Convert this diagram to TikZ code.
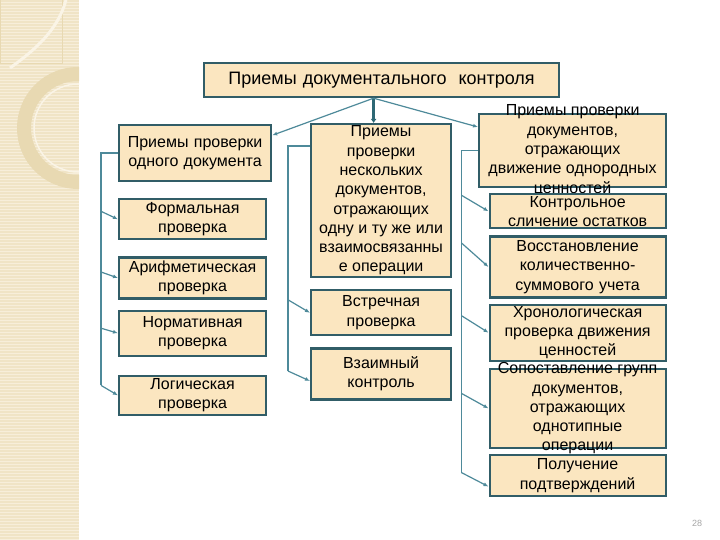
\documentclass[tikz,border=0pt]{standalone}
\usepackage{fontspec}
\setmainfont{Liberation Sans}
\usetikzlibrary{arrows.meta,positioning,calc}
\definecolor{paper}{HTML}{F0E4C6}
\definecolor{paperline}{HTML}{F7EEDA}
\definecolor{ring}{HTML}{E8D9B2}
\definecolor{glint}{HTML}{FAF4E6}
\definecolor{boxfill}{HTML}{FBE6C0}
\definecolor{boxedge}{HTML}{315D67}
\definecolor{wirec}{HTML}{4E8A9A}
\definecolor{trunkc}{HTML}{2E6875}
\definecolor{pagenum}{HTML}{A6A6A6}
\tikzset{
  >={Latex[length=5pt,width=4pt]},
  every node/.style={font=\fontsize{16}{19.3}\selectfont},
  box/.style={draw=boxedge,fill=boxfill,line width=2.2pt,inner sep=0pt,align=center},
  wire/.style={draw=wirec,line width=1.2pt},
  warrow/.style={wire,->},
  trunk/.style={draw=trunkc,line width=3pt,-{Latex[length=4pt,width=6pt]}}
}

\begin{document}
\begin{tikzpicture}[x=1pt,y=-1pt,node distance=5pt]
  \useasboundingbox (0,0) rectangle (720,540);
  \fill[white] (0,0) rectangle (720,540);
  % left strip
  \begin{scope}
    \clip (0,0) rectangle (79,540);
    \fill[paper] (0,0) rectangle (79,540);
    \foreach \y in {2,5,...,540} \draw[paperline,line width=0.8pt] (0,\y) -- (79,\y);
    \draw[ring,line width=1pt] (0,0) rectangle (62,64);
    \draw[glint,line width=3pt] (66,0) .. controls (58,30) and (35,50) .. (10,68);
    \draw[ring,line width=14pt] (78,128) circle[radius=54];
    \draw[glint,line width=1.5pt] (78,128) circle[radius=44];
  \end{scope}

  \node[box,text width=355pt,minimum height=34pt,anchor=north west,font=\fontsize{18}{21}\selectfont] (top) at (203,62) {Приемы документального\ \ контроля};

  \node[box,text width=152pt,minimum height=56pt,anchor=north west] (one) at (118,124) {Приемы проверки\\одного документа};
  \node[box,text width=147pt,minimum height=40pt,below=16pt of one,xshift=-2.5pt] (formal) {Формальная\\проверка};
  \node[box,text width=147pt,minimum height=41pt,below=16pt of formal] (arith) {Арифметическая\\проверка};
  \node[box,text width=147pt,minimum height=45pt,below=10pt of arith] (norm) {Нормативная\\проверка};
  \node[box,text width=147pt,minimum height=39pt,below=18pt of norm] (logic) {Логическая\\проверка};

  \node[box,anchor=north west] (several) at (310,123) {\parbox[c][153pt][c]{140pt}{\centering Приемы\\проверки\\нескольких\\документов,\\отражающих\\одну и ту же или\\взаимосвязанны\\е операции}};
  \node[box,text width=140pt,minimum height=45pt,below=11pt of several] (meet) {Встречная\\проверка};
  \node[box,text width=140pt,minimum height=51pt,below=11pt of meet] (mutual) {Взаимный\\контроль};

  \node[box,anchor=north west] (group) at (478,113) {\parbox[c][73pt][c]{187pt}{\centering Приемы проверки\\документов,\\отражающих\\движение однородных\\ценностей}};
  \node[box,below=5pt of group,xshift=5pt] (recon) {\parbox[c][34pt][c]{176pt}{\centering Контрольное\\сличение остатков}};
  \node[box,text width=176pt,minimum height=61pt,below=6pt of recon] (restore) {Восстановление\\количественно-\\суммового учета};
  \node[box,below=5pt of restore] (chron) {\parbox[c][56pt][c]{176pt}{\centering Хронологическая\\проверка движения\\ценностей}};
  \node[box,below=6pt of chron] (match) {\parbox[c][79pt][c]{176pt}{\centering Сопоставление групп\\документов,\\отражающих\\однотипные\\операции}};
  \node[box,text width=176pt,minimum height=41pt,below=5pt of match] (confirm) {Получение\\подтверждений};

  \node[font=\fontsize{9}{10}\selectfont,text=pagenum] (page) at (697,523) {28};

  \coordinate (hub) at ($(top.south)+(-8,0)$);
  \draw[trunk] (hub) -- (hub |- several.north);
  \draw[warrow] (hub) -- (one.13);
  \draw[warrow] (hub) -- (group.166);

  \coordinate (lfoot) at ($(logic.west)+(-17,-10)$);
  \draw[wire] (one.west) -| (lfoot);
  \draw[warrow] ($(formal.west -| lfoot)+(0,-8)$) -- (formal.west);
  \draw[warrow] ($(arith.west -| lfoot)+(0,-6)$) -- (arith.west);
  \draw[warrow] ($(norm.west -| lfoot)+(0,-5)$) -- (norm.west);
  \draw[warrow] (lfoot) -- (logic.west);

  \coordinate (mtop) at ($(several.north west)+(0,23)$);
  \coordinate (mfoot) at ($(mutual.west)+(-22,-3)$);
  \draw[wire] (mtop) -| (mfoot);
  \draw[warrow] ($(meet.west -| mfoot)+(0,-13)$) -- (meet.west);
  \draw[warrow] (mfoot) -- ($(mutual.west)+(0,7)$);

  \coordinate (rfoot) at ($(confirm.west)+(-27,-3)$);
  \draw[wire] (group.west) -| (rfoot);
  \draw[warrow] ($(recon.west -| rfoot)+(0,-16)$) -- (recon.west);
  \draw[warrow] ($(restore.west -| rfoot)+(0,-24)$) -- (restore.west);
  \draw[warrow] ($(chron.west -| rfoot)+(0,-17)$) -- (chron.west);
  \draw[warrow] ($(match.west -| rfoot)+(0,-15)$) -- (match.west);
  \draw[warrow] (rfoot) -- ($(confirm.west)+(0,11)$);
\end{tikzpicture}
\end{document}
